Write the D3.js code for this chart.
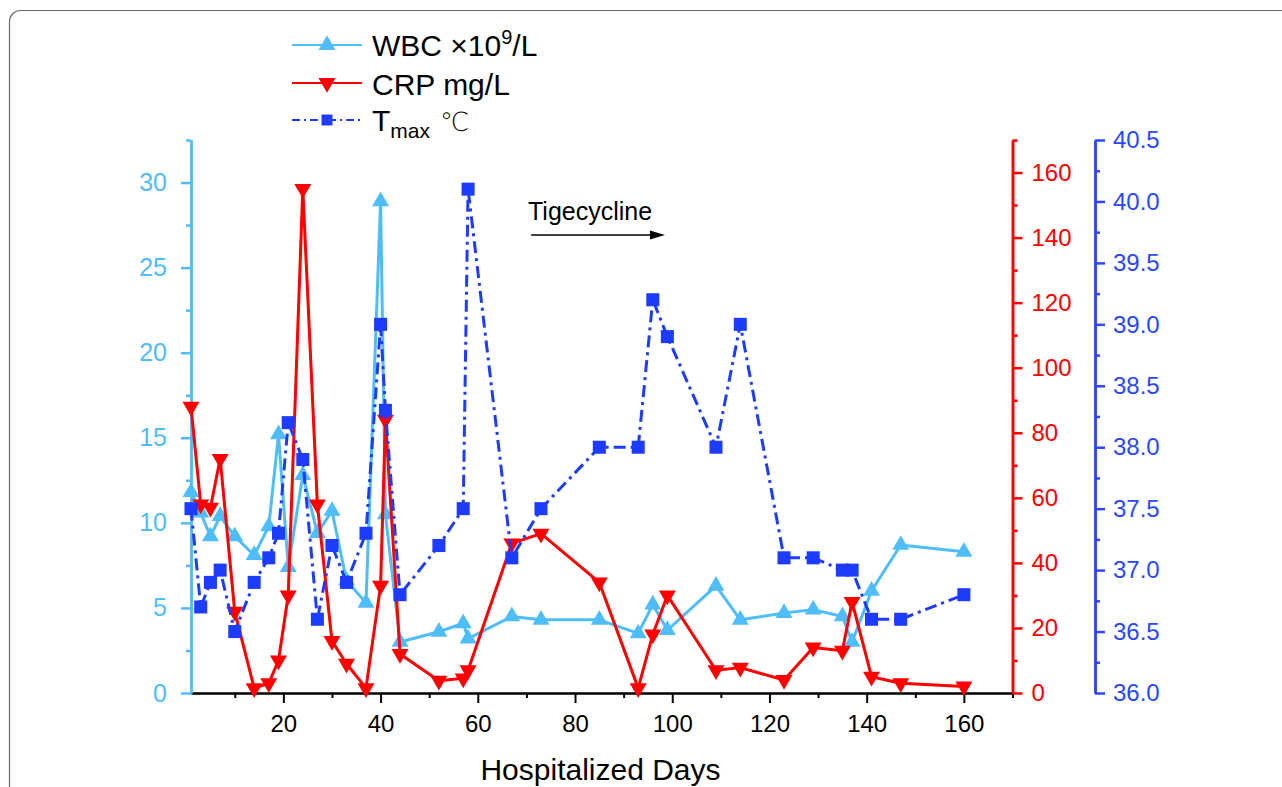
<!DOCTYPE html>
<html>
<head>
<meta charset="utf-8">
<script src="https://cdn.jsdelivr.net/npm/d3@7"></script>
<style>
  html, body { margin: 0; padding: 0; background: #fff; }
  svg { display: block; font-family: "Liberation Sans", Arial, sans-serif; }
</style>
</head>
<body>
<svg id="chart" width="1282" height="787"></svg>
<script>
// ---- data ----
const days = [1,3,5,7,10,14,17,19,21,24,27,30,33,37,40,41,44,52,57,58,67,73,85,93,96,99,109,114,123,129,135,137,141,147,160];
const wbc  = [11.8,10.6,9.2,10.4,9.2,8.1,9.8,15.2,7.4,12.8,9.4,10.7,6.6,5.3,28.9,10.5,3.0,3.6,4.1,3.2,4.5,4.3,4.3,3.5,5.2,3.7,6.3,4.3,4.7,4.9,4.5,3.0,6.0,8.7,8.3];
const crp  = [88,58,57,72,25,1.5,3,10,30,155,58,16,9,1.5,33,84,12,3.8,4.5,7,46,49,34,1.5,18,30,7,7.8,4,14,13,28,5,3,2];
const tmax = [37.5,36.7,36.9,37.0,36.5,36.9,37.1,37.3,38.2,37.9,36.6,37.2,36.9,37.3,39.0,38.3,36.8,37.2,37.5,40.1,37.1,37.5,38.0,38.0,39.2,38.9,38.0,39.0,37.1,37.1,37.0,37.0,36.6,36.6,36.8];

const xTicks     = [20,40,60,80,100,120,140,160];
const xMinor     = [10,30,50,70,90,110,130,150,170];
const wbcTicks   = [0,5,10,15,20,25,30];
const wbcMinor   = [2.5,7.5,12.5,17.5,22.5,27.5,32.5];
const crpTicks   = [0,20,40,60,80,100,120,140,160];
const crpMinor   = [10,30,50,70,90,110,130,150,170];
const tTicks     = [36.0,36.5,37.0,37.5,38.0,38.5,39.0,39.5,40.0,40.5];
const tMinor     = [36.25,36.75,37.25,37.75,38.25,38.75,39.25,39.75,40.25];

const seriesNames = ["WBC", "CRP mg/L", "Tmax"];
const xTitle = "Hospitalized Days";
const annotation = "Tigecycline";
const arrowDays = [71, 98.5];

// ---- styles ----
const C_WBC = "#4FBEF8", C_CRP = "#FF0000", C_T = "#1E3CFF", C_TAX = "#2B47FF";
const FONT = 24;

const svg = d3.select("#chart");
svg.append("rect").attr("width",1282).attr("height",787).attr("fill","#fff");
// outer rounded frame
svg.append("rect").attr("x",9.5).attr("y",10.5).attr("width",1300).attr("height",800)
  .attr("rx",11).attr("fill","none").attr("stroke","#6a6a6a").attr("stroke-width",1.2);

const L = 191, R = 1012.5, T = 140, B = 693;
const x  = d3.scaleLinear().domain([1,170]).range([L,R]);
const yW = d3.scaleLinear().domain([0,32.5]).range([B,T]);
const yC = d3.scaleLinear().domain([0,170]).range([B,T]);
const yT = d3.scaleLinear().domain([36,40.5]).range([B,T]);

function styleAxis(g, color, width) {
  g.select(".domain").attr("stroke", color).attr("stroke-width", width);
  g.selectAll(".tick line").attr("stroke", color).attr("stroke-width", width);
  g.selectAll(".tick text").attr("fill", color).style("font-size", FONT + "px")
    .style("font-family", '"Liberation Sans", Arial, sans-serif');
}

// bottom axis
const gxMinor = svg.append("g").attr("transform",`translate(0,${B})`)
  .call(d3.axisBottom(x).tickValues(xMinor).tickSize(5).tickFormat("").tickSizeOuter(0));
styleAxis(gxMinor, "#000", 2);
const gx = svg.append("g").attr("transform",`translate(0,${B})`)
  .call(d3.axisBottom(x).tickValues(xTicks).tickSize(10).tickPadding(12).tickSizeOuter(0));
styleAxis(gx, "#000", 2);
gx.selectAll(".tick text").attr("fill","#000");

// left WBC axis
const gwm = svg.append("g").attr("transform",`translate(${L},0)`)
  .call(d3.axisLeft(yW).tickValues(wbcMinor).tickSize(5).tickFormat("").tickSizeOuter(0));
styleAxis(gwm, C_WBC, 2.5);
const gw = svg.append("g").attr("transform",`translate(${L},0)`)
  .call(d3.axisLeft(yW).tickValues(wbcTicks).tickSize(10).tickPadding(14).tickSizeOuter(0));
styleAxis(gw, C_WBC, 2.5);
gw.selectAll(".tick text").style("font-size","25px");

// right CRP axis
const gcm = svg.append("g").attr("transform",`translate(${R},0)`)
  .call(d3.axisRight(yC).tickValues(crpMinor).tickSize(5).tickFormat("").tickSizeOuter(0));
styleAxis(gcm, C_CRP, 2.5);
const gc = svg.append("g").attr("transform",`translate(${R},0)`)
  .call(d3.axisRight(yC).tickValues(crpTicks).tickSize(10).tickPadding(9).tickSizeOuter(0));
styleAxis(gc, C_CRP, 2.5);

// right Tmax axis
const XT = 1095;
const gtm = svg.append("g").attr("transform",`translate(${XT},0)`)
  .call(d3.axisRight(yT).tickValues(tMinor).tickSize(5).tickFormat("").tickSizeOuter(0));
styleAxis(gtm, C_TAX, 2.5);
const gt = svg.append("g").attr("transform",`translate(${XT},0)`)
  .call(d3.axisRight(yT).tickValues(tTicks).tickSize(10).tickPadding(8).tickFormat(d3.format(".1f")).tickSizeOuter(0));
styleAxis(gt, C_TAX, 2.5);

// x title
svg.append("text").attr("x",600.5).attr("y",780).attr("text-anchor","middle")
  .style("font-size","30px").attr("fill","#000").text(xTitle);

// annotation with arrow
svg.append("text").attr("x",528).attr("y",220).style("font-size","25px").attr("fill","#000").text(annotation);
const ax0 = x(arrowDays[0]), ax1 = x(arrowDays[1]), ay = 235;
svg.append("line").attr("x1",ax0).attr("x2",ax1 - 10).attr("y1",ay).attr("y2",ay)
  .attr("stroke","#000").attr("stroke-width",1.4);
svg.append("path").attr("d",`M${ax1},${ay} L${ax1-15},${ay-4.5} L${ax1-15},${ay+4.5} Z`).attr("fill","#000");

// series
const triUp = d3.symbol().type(d3.symbolTriangle).size(125);
const sq = d3.symbol().type(d3.symbolSquare).size(170);
const DASH = "12,5,3,5";

function drawSeries(vals, yScale, color, dash, sym, rot) {
  const pts = days.map((d,i)=>[x(d), yScale(vals[i])]);
  svg.append("path").attr("d", d3.line()(pts)).attr("fill","none")
    .attr("stroke",color).attr("stroke-width",3).attr("stroke-linejoin","round")
    .attr("stroke-dasharray", dash);
  svg.append("g").selectAll("path").data(pts).join("path")
    .attr("d", sym).attr("fill", color)
    .attr("transform", p => `translate(${p[0]},${p[1]}) rotate(${rot})`);
}
drawSeries(wbc, yW, C_WBC, null, triUp, 0);
drawSeries(crp, yC, C_CRP, null, triUp, 180);
drawSeries(tmax, yT, C_T, DASH, sq, 0);

// legend
const lg = svg.append("g");
const rows = [
  {y:45, color:C_WBC, dash:null, sym:triUp, rot:0},
  {y:83, color:C_CRP, dash:null, sym:triUp, rot:180},
  {y:120, color:C_T, dash:"8,4,2,4", sym:d3.symbol().type(d3.symbolSquare).size(120), rot:0}
];
rows.forEach(r => {
  lg.append("line").attr("x1",292).attr("x2",362).attr("y1",r.y).attr("y2",r.y)
    .attr("stroke",r.color).attr("stroke-width",2).attr("stroke-dasharray",r.dash);
  lg.append("path").attr("d", r.sym).attr("fill", r.color)
    .attr("transform",`translate(327,${r.y}) rotate(${r.rot})`);
});
const t1 = lg.append("text").attr("x",372).attr("y",56).style("font-size","30px").attr("fill","#000");
t1.append("tspan").text("WBC ×10");
t1.append("tspan").attr("dy",-12).style("font-size","20px").text("9");
t1.append("tspan").attr("dy",12).text("/L");
lg.append("text").attr("x",372).attr("y",95).style("font-size","30px").attr("fill","#000").text(seriesNames[1]);
const t3 = lg.append("text").attr("x",372).attr("y",131).style("font-size","30px").attr("fill","#000");
t3.append("tspan").text("T");
t3.append("tspan").attr("dy",7).style("font-size","21px").text("max");
lg.append("text").attr("x",440).attr("y",131).style("font-size","26px")
  .style("font-family",'"DejaVu Sans", sans-serif').style("font-weight","200").attr("fill","#000").text("℃");
</script>
</body>
</html>
